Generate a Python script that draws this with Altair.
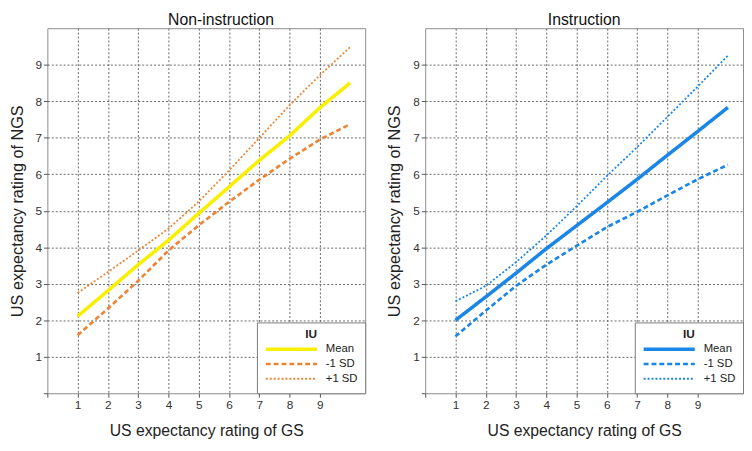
import altair as alt
import pandas as pd

x_vals = [1, 2, 3, 4, 5, 6, 7, 8, 9, 10]
series_names = ["Mean", "-1 SD", "+1 SD"]

non_mean = [2.11, 2.81, 3.52, 4.19, 4.93, 5.65, 6.38, 7.05, 7.82, 8.50]
non_minus = [1.59, 2.32, 3.08, 3.91, 4.60, 5.24, 5.85, 6.42, 6.95, 7.37]
non_plus = [2.75, 3.32, 3.91, 4.51, 5.25, 6.10, 6.99, 7.89, 8.71, 9.48]

ins_mean = [2.00, 2.64, 3.29, 3.96, 4.59, 5.22, 5.86, 6.52, 7.17, 7.83]
ins_minus = [1.56, 2.26, 2.94, 3.52, 4.04, 4.55, 4.97, 5.42, 5.86, 6.26]
ins_plus = [2.52, 2.94, 3.59, 4.32, 5.12, 5.95, 6.74, 7.57, 8.40, 9.25]

tick_values = [0, 1, 2, 3, 4, 5, 6, 7, 8, 9]

non_colors = ["#F8F000", "#EE8434", "#EE8434"]
ins_colors = ["#1A86E8", "#1A86E8", "#1A86E8"]

FONT = "Liberation Sans"


def make_df(mean, minus, plus):
    rows = []
    for name, vals in zip(series_names, [mean, minus, plus]):
        for x, y in zip(x_vals, vals):
            rows.append({"x": x, "y": y, "series": name})
    return pd.DataFrame(rows)


def panel(df, title, colors, dx):
    legend = alt.Legend(
        title="IU",
        orient="bottom-right",
        offset=0,
        fillColor="white",
        strokeColor="#7a7a7a",
        padding=7,
        symbolType="stroke",
        symbolSize=2704,
        clipHeight=14.5,
        labelFont=FONT,
        labelFontSize=11.5,
        labelColor="#222222",
        labelOffset=7,
        titleFont=FONT,
        titleFontSize=12,
        titleFontWeight="bold",
        titleColor="#222222",
        titleAnchor="middle",
        titlePadding=1,
        rowPadding=0,
    )
    grid_op = {"condition": {"test": "datum.value === 0", "value": 0}, "value": 1}
    return (
        alt.Chart(df)
        .mark_line(strokeCap="butt", clip=True)
        .encode(
            x=alt.X(
                "x:Q",
                scale=alt.Scale(domain=[0, 10.5], nice=False, zero=False),
                axis=alt.Axis(
                    values=tick_values,
                    title="US expectancy rating of GS",
                    labelExpr="datum.value == 0 ? '' : datum.label",
                    gridOpacity=grid_op,
                    titlePadding=13,
                ),
            ),
            y=alt.Y(
                "y:Q",
                scale=alt.Scale(domain=[0, 10], nice=False, zero=False),
                axis=alt.Axis(
                    values=tick_values,
                    title="US expectancy rating of NGS",
                    labelExpr="datum.value == 0 ? '' : datum.label",
                    gridOpacity=grid_op,
                    titlePadding=10,
                    titleFontSize=16.5,
                ),
            ),
            color=alt.Color(
                "series:N",
                scale=alt.Scale(domain=series_names, range=colors),
                legend=legend,
            ),
            strokeDash=alt.StrokeDash(
                "series:N",
                scale=alt.Scale(domain=series_names, range=[[1, 0], [5, 3], [2, 2]]),
                legend=legend,
            ),
            strokeWidth=alt.StrokeWidth(
                "series:N",
                scale=alt.Scale(domain=series_names, range=[3.6, 1.8, 2.4]),
                legend=legend,
            ),
            order=alt.Order("x:Q"),
        )
        .properties(
            width=323,
            height=371,
            title=alt.TitleParams(
                text=title,
                font=FONT,
                fontSize=16,
                fontWeight="normal",
                color="#111111",
                dx=dx,
                offset=0,
            ),
        )
    )


left = panel(make_df(non_mean, non_minus, non_plus), "Non-instruction", non_colors, 15)
right = panel(make_df(ins_mean, ins_minus, ins_plus), "Instruction", ins_colors, 0)

chart = (
    alt.hconcat(left, right, spacing=20)
    .resolve_scale(color="independent", strokeDash="independent", strokeWidth="independent")
    .properties(padding={"top": 0, "left": 0, "right": 0, "bottom": 0}, background="white")
    .configure_view(stroke="#8c8c8c", strokeWidth=1)
    .configure_axis(
        labelFont=FONT,
        labelFontSize=12,
        labelColor="#333333",
        labelPadding=2,
        titleFont=FONT,
        titleFontSize=16,
        titleFontWeight="normal",
        titleColor="#222222",
        domain=False,
        ticks=True,
        tickColor="#555555",
        tickSize=4,
        grid=True,
        gridColor="#666666",
        gridDash=[2, 2],
        gridWidth=1,
    )
)

chart.save("out.html", embed_options={"renderer": "svg", "actions": False})
